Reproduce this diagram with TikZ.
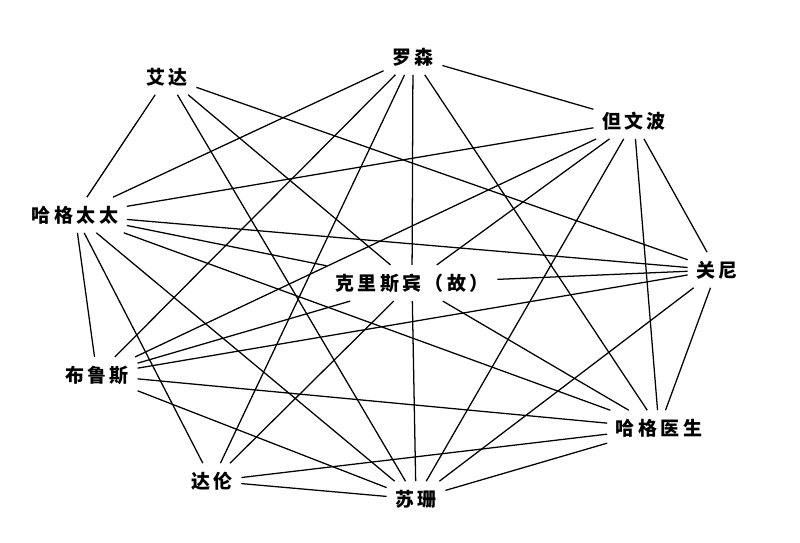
\documentclass[tikz,border=0pt]{standalone}
\usepackage{fontspec}
\newfontfamily\cjk[LetterSpace=18]{Noto Sans CJK SC}
\begin{document}
\begin{tikzpicture}[x=0.025cm, y=-0.025cm,
    ren/.style={inner sep=6pt, font=\cjk\bfseries\fontsize{13.5}{15}\selectfont},
    xian/.style={line width=0.9pt}]
    \useasboundingbox (0,0) rectangle (800,542);

    % 人物
    \node[ren] (rosen) at (413,57) {罗森};
    \node[ren] (aida) at (167,77) {艾达};
    \node[ren] (danwenbo) at (634,121) {但文波};
    \node[ren] (hagetaitai) at (75,215) {哈格太太};
    \node[ren] (guanni) at (717,270) {关尼};
    \node[ren] (kelisibin) at (412,283) {克里斯宾（故）};
    \node[ren] (bulusi) at (97,375) {布鲁斯};
    \node[ren] (hageyisheng) at (659,428) {哈格医生};
    \node[ren] (dalun) at (212,481) {达伦};
    \node[ren] (sushan) at (416,499) {苏珊};

    % 关系
    \foreach \t in {hagetaitai, guanni, kelisibin, sushan}
        \draw[xian] (aida) -- (\t);
    \foreach \t in {hagetaitai, bulusi, dalun, danwenbo, kelisibin, hageyisheng}
        \draw[xian] (rosen) -- (\t);
    \foreach \t in {hagetaitai, bulusi, kelisibin, sushan, hageyisheng, guanni}
        \draw[xian] (danwenbo) -- (\t);
    \foreach \t in {guanni, kelisibin, hageyisheng, bulusi, dalun, sushan}
        \draw[xian] (hagetaitai) -- (\t);
    \foreach \t in {guanni, bulusi, dalun, sushan, hageyisheng}
        \draw[xian] (kelisibin) -- (\t);
    \foreach \t in {bulusi, sushan, hageyisheng}
        \draw[xian] (guanni) -- (\t);
    \foreach \t in {hageyisheng, sushan}
        \draw[xian] (bulusi) -- (\t);
    \foreach \t in {hageyisheng, sushan}
        \draw[xian] (dalun) -- (\t);
    \draw[xian] (sushan) -- (hageyisheng);
\end{tikzpicture}
\end{document}
